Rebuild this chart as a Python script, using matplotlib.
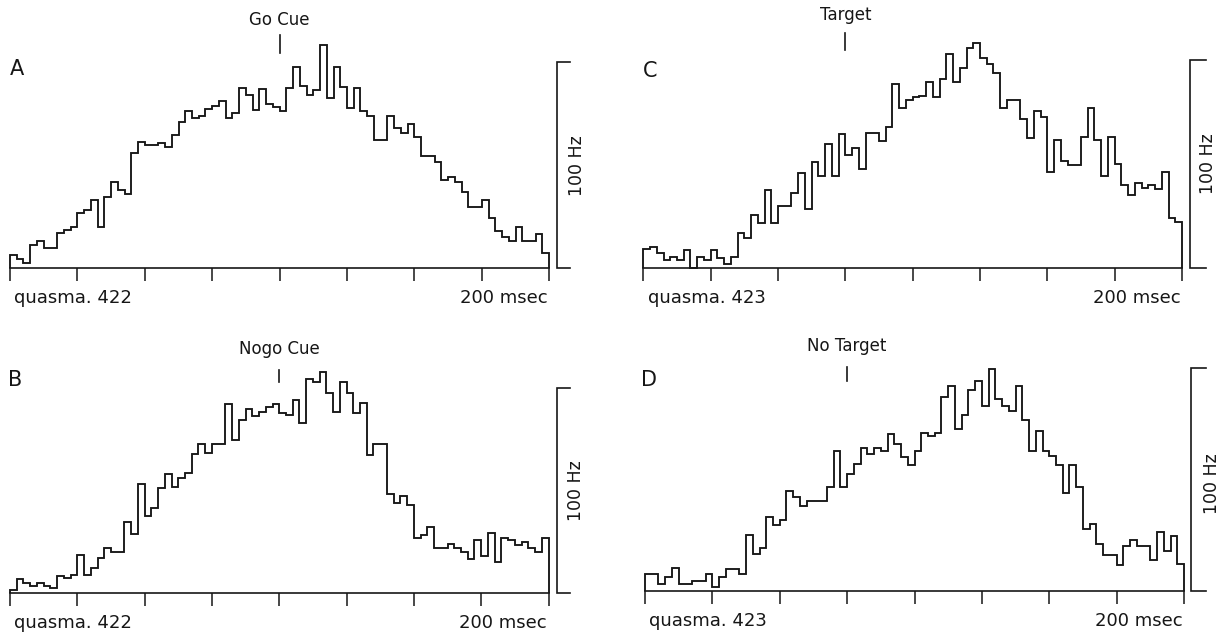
import numpy as np
import matplotlib
matplotlib.use("Agg")
import matplotlib.pyplot as plt

plt.rcParams["font.family"] = ["DejaVu Sans"]

# ---- data: firing rate (Hz) in 20 ms bins ----
BIN_MS = 20

rate_go = [6.5, 4.4, 2.4, 11.3, 13.4, 9.7, 9.7, 17.0, 18.6, 20.2,
           27.0, 28.3, 33.2, 19.9, 34.8, 42.0, 38.0, 36.0, 56.0, 61.5,
           59.9, 59.9, 61.0, 59.0, 64.7, 71.2, 76.4, 72.8, 74.0, 77.2,
           78.8, 81.2, 72.8, 75.2, 87.4, 84.1, 76.9, 86.9, 79.8, 78.5,
           76.5, 87.4, 97.6, 88.5, 84.1, 86.6, 108.4, 82.8, 97.9, 87.9,
           77.7, 87.4, 76.4, 74.1, 62.3, 62.3, 74.0, 68.0, 65.5, 69.9,
           63.6, 54.7, 54.7, 51.5, 42.9, 44.5, 42.1, 37.2, 29.9, 29.9,
           33.2, 24.3, 18.1, 15.4, 13.3, 20.2, 13.3, 13.3, 16.7, 7.6]

rate_nogo = [1.6, 7.0, 5.2, 3.6, 5.2, 3.6, 2.4, 8.4, 7.3, 8.9,
             18.6, 8.9, 12.2, 17.0, 22.2, 19.9, 19.9, 34.8, 28.8, 53.2,
             37.6, 41.3, 51.1, 58.0, 51.9, 56.2, 58.3, 67.7, 72.4, 68.4,
             72.4, 72.4, 92.1, 74.6, 84.3, 89.6, 86.2, 88.0, 90.8, 92.1,
             87.5, 86.7, 94.0, 83.0, 104.2, 102.6, 107.8, 97.6, 88.3, 102.6,
             97.6, 87.5, 92.7, 67.3, 72.4, 72.4, 48.1, 43.8, 47.5, 43.0,
             27.1, 28.4, 32.4, 22.2, 22.2, 23.8, 22.2, 20.3, 16.7, 25.9,
             18.3, 29.2, 15.1, 27.1, 25.9, 23.5, 25.1, 22.2, 19.9, 27.1]

rate_target = [8.8, 10.1, 6.9, 3.7, 5.3, 3.7, 8.5, 0.0, 5.3, 3.7,
               8.5, 4.5, 1.6, 5.3, 16.5, 14.1, 25.4, 21.7, 37.4, 21.7,
               29.9, 29.9, 35.8, 45.7, 28.3, 51.0, 44.3, 59.4, 44.3, 64.2,
               54.3, 57.5, 47.5, 64.7, 64.7, 61.0, 67.9, 88.3, 76.7, 80.7,
               82.3, 82.8, 89.6, 82.3, 90.9, 102.7, 89.2, 96.0, 105.9, 108.0,
               101.1, 97.9, 93.6, 76.7, 80.7, 80.7, 71.6, 62.3, 75.6, 72.7,
               46.2, 61.5, 51.4, 49.4, 49.4, 63.1, 76.7, 61.5, 44.1, 63.1,
               49.8, 39.8, 35.0, 40.9, 38.2, 39.8, 37.7, 45.9, 24.1, 21.8]

rate_notarget = [7.5, 7.5, 3.0, 6.5, 10.5, 3.0, 3.0, 4.5, 4.5, 7.5,
                 1.7, 6.5, 9.8, 9.8, 7.5, 24.9, 16.5, 19.5, 33.2, 29.7,
                 31.7, 45.0, 42.0, 38.3, 40.5, 40.5, 40.5, 46.7, 62.8, 46.7,
                 52.3, 56.8, 64.3, 61.6, 64.3, 62.8, 70.3, 66.1, 60.0, 56.5,
                 62.8, 71.0, 69.5, 70.9, 86.8, 92.0, 72.8, 78.8, 90.1, 94.3,
                 83.0, 99.5, 86.3, 83.0, 80.8, 91.9, 76.9, 62.8, 71.6, 62.8,
                 60.4, 56.6, 44.0, 56.3, 46.5, 27.8, 30.0, 21.0, 16.2, 16.2,
                 11.6, 20.0, 22.8, 20.0, 20.0, 13.8, 26.3, 18.0, 24.8, 12.0]

letters = ["A", "B", "C", "D"]
events = ["Go Cue", "Nogo Cue", "Target", "No Target"]
units = ["quasma. 422", "quasma. 422", "quasma. 423", "quasma. 423"]
window_start_ms = [-800, -800, -600, -600]
tick_step_ms = 200
time_label = "200 msec"
scale_label = "100 Hz"
scale_hz = 100

rates = [rate_go, rate_nogo, rate_target, rate_notarget]

# ---- layout (pixel boxes of the plotting areas: x0, x1, baseline y, 100 Hz y) ----
W, H = 1228, 635
boxes = [(10, 549.2, 268.3, 62.3),
         (10, 548.5, 593.3, 387.7),
         (643.3, 1182.0, 267.7, 60.0),
         (645.0, 1184.0, 591.0, 368.0)]
# per panel: letter pos, event text y, marker span, scale bar x / tick end, scale text x
letter_pos = [(0.013, 0.967), (0.009, 1.037), (0.0124, 0.947), (0.0074, 0.946)]
event_y = [1.205, 1.188, 1.217, 1.099]
marker_span = [(1.045, 1.133), (1.028, 1.086), (1.048, 1.130), (0.942, 1.004)]
bar_x = [(1.0145, 1.0386), (1.0150, 1.0390), (1.0149, 1.0446), (1.0130, 1.0408)]
bar_text_x = [1.0515, 1.0515, 1.048, 1.052]
bar_text_y = [0.5, 0.497, 0.5, 0.48]

ink = "#161616"
fig = plt.figure(figsize=(W / 100, H / 100), dpi=100)
fig.patch.set_facecolor("white")

for i in range(4):
    x0, x1, yb, yt = boxes[i]
    ax = fig.add_axes([x0 / W, 1 - yb / H, (x1 - x0) / W, (yb - yt) / H])
    vals = np.asarray(rates[i])
    t0 = window_start_ms[i]
    edges = t0 + BIN_MS * np.arange(len(vals) + 1)
    t1 = edges[-1]

    ax.stairs(vals, edges, baseline=0, fill=False, color=ink, lw=1.35,
              clip_on=False, joinstyle="miter")

    ax.set_xlim(t0, t1)
    ax.set_ylim(0, scale_hz)
    for s in ("top", "left", "right"):
        ax.spines[s].set_visible(False)
    ax.spines["bottom"].set_color(ink)
    ax.spines["bottom"].set_linewidth(1.2)
    ax.set_xticks(np.arange(t0, t1 + 1, tick_step_ms))
    ax.set_yticks([])
    ax.tick_params(axis="x", direction="out", length=9.5, width=1.1,
                   color=ink, labelbottom=False)
    ax.patch.set_alpha(0)

    # event marker and name at time zero
    trans = ax.get_xaxis_transform()
    m0, m1 = marker_span[i]
    ax.plot([0, 0], [m0, m1], transform=trans, color=ink, lw=1.2, clip_on=False)
    ax.text(0, event_y[i], events[i], transform=trans, ha="center", va="center",
            fontsize=12, color=ink)

    # panel letter
    lx, ly = letter_pos[i]
    ax.text(lx, ly, letters[i], transform=ax.transAxes, ha="center", va="center",
            fontsize=15, color=ink)

    # vertical scale bar: 0 to 100 Hz
    bx, bt = bar_x[i]
    ax.plot([bt, bx, bx, bt], [1, 1, 0, 0], transform=ax.transAxes, color=ink,
            lw=1.2, clip_on=False, solid_joinstyle="miter")
    ax.text(bar_text_x[i], bar_text_y[i], scale_label, transform=ax.transAxes,
            rotation=90, ha="center", va="center", fontsize=12.5, color=ink)

    # unit name and time scale under the axis
    below = -30 / ((yb - yt))
    ax.text(0.008, below, units[i], transform=ax.transAxes, ha="left",
            va="center", fontsize=13, color=ink)
    ax.text(0.997, below, time_label, transform=ax.transAxes, ha="right",
            va="center", fontsize=13, color=ink)

fig.savefig("out.png", dpi=100, facecolor="white")
